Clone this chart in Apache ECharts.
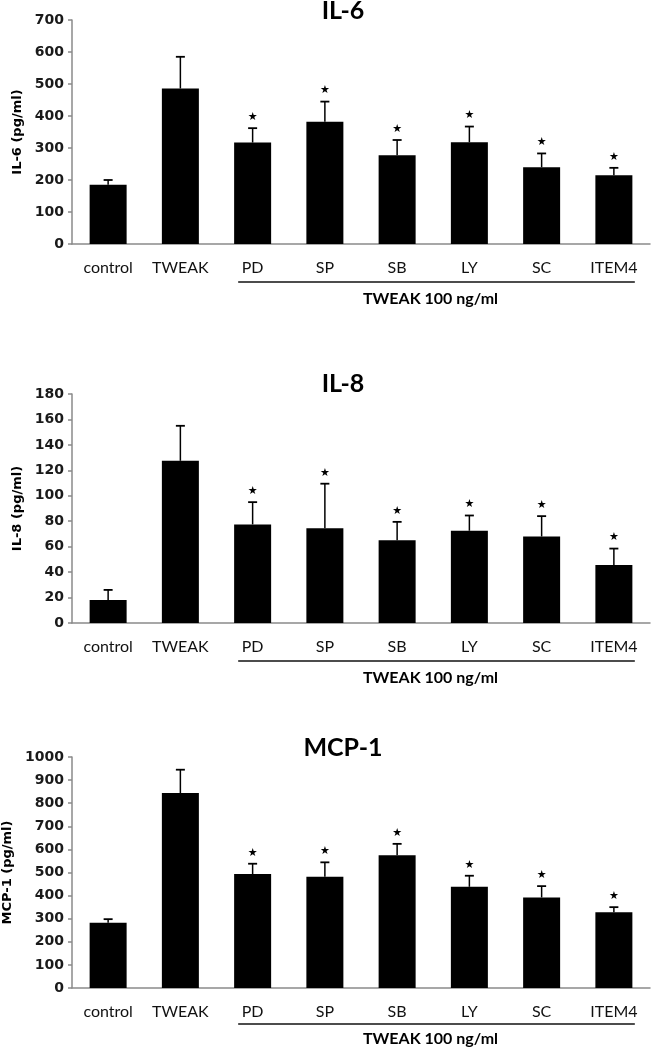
<!DOCTYPE html>
<html>
<head>
<meta charset="utf-8">
<script src="https://cdn.jsdelivr.net/npm/echarts@6/dist/echarts.min.js"></script>
<style>html,body{margin:0;padding:0;background:#fff;}#c{width:652px;height:1049px;}</style>
</head>
<body>
<div id="c"></div>
<script>
var categories = ['control', 'TWEAK', 'PD', 'SP', 'SB', 'LY', 'SC', 'ITEM4'];
var il6Mean = [185, 486, 317, 382, 277, 318, 240, 215];
var il6Sd   = [15, 99, 45, 63, 48, 49, 43, 23];
var il8Mean = [18, 127.5, 77.5, 74.5, 65, 72.5, 68, 45.5];
var il8Sd   = [8, 27.5, 17.5, 35, 14.5, 12, 16, 13];
var mcpMean = [282, 844, 493, 482, 575, 438, 392, 328];
var mcpSd   = [16, 101, 45, 62, 49, 48, 49, 22];
var significant = [0, 0, 1, 1, 1, 1, 1, 1];
var panelTitles = ['IL-6', 'IL-8', 'MCP-1'];
var yNames = ['IL-6 (pg/ml)', 'IL-8 (pg/ml)', 'MCP-1 (pg/ml)'];
var yMax = [700, 180, 1000];
var yInterval = [100, 20, 100];
var groupLabel = 'TWEAK 100 ng/ml';

var panels = [
  {mean: il6Mean, sd: il6Sd, top: 20, height: 224, titleTop: -2, nameGap: 48, lineGap: 38, textGap: 55},
  {mean: il8Mean, sd: il8Sd, top: 394, height: 229, titleTop: 371, nameGap: 47, lineGap: 38, textGap: 55},
  {mean: mcpMean, sd: mcpSd, top: 757, height: 231, titleTop: 735, nameGap: 52, lineGap: 36, textGap: 51}
];

var axisColor = '#8a8a8a';
var grids = [], xAxes = [], yAxes = [], series = [], titles = [];
panels.forEach(function (p, k) {
  grids.push({left: 72, right: 2, top: p.top, height: p.height, containLabel: false, outerBoundsMode: 'none'});
  titles.push({
    text: panelTitles[k], left: 343, top: p.titleTop, textAlign: 'center', padding: 0,
    textStyle: {fontFamily: 'Lato', fontWeight: 'bold', fontSize: 25, lineHeight: 25, color: '#000'}
  });
  xAxes.push({
    type: 'category', gridIndex: k, data: categories,
    axisLine: {show: true, lineStyle: {color: axisColor, width: 1.5}},
    axisTick: {show: false},
    axisLabel: {interval: 0, margin: 16, fontFamily: 'Lato', fontSize: 16, color: '#111'}
  });
  yAxes.push({
    type: 'value', gridIndex: k, min: 0, max: yMax[k], interval: yInterval[k],
    name: yNames[k], nameLocation: 'middle', nameGap: p.nameGap,
    nameTextStyle: {fontFamily: 'DejaVu Sans', fontWeight: 'bold', fontSize: 13, color: '#000'},
    axisLine: {show: true, lineStyle: {color: axisColor, width: 1.5}},
    axisTick: {show: true, length: 4, lineStyle: {color: axisColor, width: 1.5}},
    splitLine: {show: false},
    axisLabel: {margin: 8, fontFamily: 'DejaVu Sans', fontWeight: 'bold', fontSize: 14, color: '#1a1a1a',
      formatter: function (v) { return String(v); }}
  });
  series.push({
    type: 'bar', xAxisIndex: k, yAxisIndex: k, data: p.mean, barWidth: 37,
    itemStyle: {color: '#000'}, silent: true, animation: false
  });
  var errData = p.mean.map(function (m, i) { return [i, m, m + p.sd[i], significant[i]]; });
  series.push({
    type: 'custom', xAxisIndex: k, yAxisIndex: k, data: errData, animation: false, silent: true, z: 5,
    renderItem: function (params, api) {
      var base = api.coord([api.value(0), api.value(1)]);
      var top = api.coord([api.value(0), api.value(2)]);
      var x = base[0];
      var children = [
        {type: 'line', shape: {x1: x, y1: base[1], x2: x, y2: top[1]}, style: {stroke: '#000', lineWidth: 1.5}},
        {type: 'line', shape: {x1: x - 4.5, y1: top[1], x2: x + 4.5, y2: top[1]}, style: {stroke: '#000', lineWidth: 1.8}}
      ];
      if (api.value(3)) {
        children.push({type: 'text', x: x, y: top[1] - 11,
          style: {text: '\u2605', fontSize: 11, fontFamily: 'DejaVu Sans', fill: '#000', align: 'center', verticalAlign: 'middle'}});
      }
      return {type: 'group', children: children};
    }
  });
});

var chart = echarts.init(document.getElementById('c'), null, {renderer: 'canvas'});
chart.setOption({
  animation: false, backgroundColor: '#fff',
  title: titles, grid: grids, xAxis: xAxes, yAxis: yAxes, series: series
});

var graphics = [];
panels.forEach(function (p, k) {
  var a = chart.convertToPixel({xAxisIndex: k}, 'PD');
  var b = chart.convertToPixel({xAxisIndex: k}, 'ITEM4');
  var step = chart.convertToPixel({xAxisIndex: k}, 'SP') - a;
  var bottom = p.top + p.height;
  var x1 = a - 0.2 * step, x2 = b + 0.29 * step;
  graphics.push({type: 'line', silent: true,
    shape: {x1: x1, y1: bottom + p.lineGap, x2: x2, y2: bottom + p.lineGap}, style: {stroke: '#111', lineWidth: 1.5}});
  graphics.push({type: 'text', silent: true, x: (x1 + x2) / 2 - 6, y: bottom + p.textGap,
    style: {text: groupLabel, fontFamily: 'Lato', fontWeight: 'bold', fontSize: 16, fill: '#000', align: 'center', verticalAlign: 'middle'}});
});
chart.setOption({graphic: graphics});
</script>
</body>
</html>
